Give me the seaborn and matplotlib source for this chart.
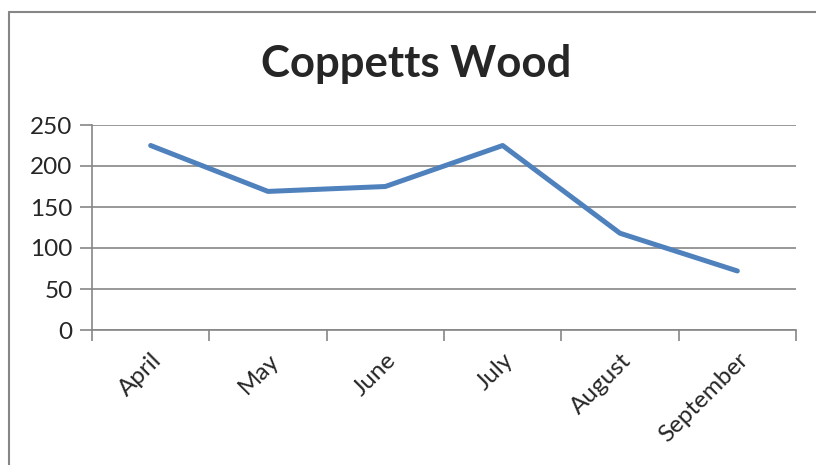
import pandas as pd
import matplotlib
matplotlib.use("Agg")
import matplotlib.pyplot as plt
import seaborn as sns
from matplotlib.lines import Line2D

months = ["April", "May", "June", "July", "August", "September"]
counts = [225, 169, 175, 225, 118, 72]
y_ticks = [0, 50, 100, 150, 200, 250]

df = pd.DataFrame({"month": months, "count": counts})

sns.set_style("white")
plt.rcParams["font.family"] = ["Lato", "DejaVu Sans"]

fig = plt.figure(figsize=(8.16, 4.65), dpi=100)
ax = fig.add_axes([92 / 816, 1 - 330 / 465, (796 - 92) / 816, (330 - 125) / 465])

sns.lineplot(data=df, x="month", y="count", sort=False, color="#4F81BD",
             linewidth=3.6, ax=ax)

ax.set_xlim(-0.5, len(months) - 0.5)
ax.set_ylim(0, 250)
ax.set_yticks(y_ticks)
ax.grid(axis="y", color="#868686", linewidth=1.2)
ax.set_axisbelow(True)

# category boundaries carry the tick marks, like Excel
ax.set_xticks([i - 0.5 for i in range(len(months) + 1)], minor=True)
ax.tick_params(axis="x", which="minor", bottom=True, length=8, width=1.2, color="#868686")
ax.tick_params(axis="x", which="major", bottom=True, length=0, pad=14)
ax.tick_params(axis="y", left=True, length=9, width=1.2, color="#868686", pad=5)
ax.set_xticks(range(len(months)))
ax.set_xticklabels(months, rotation=45, ha="right", rotation_mode="anchor",
                   fontsize=17.5)
for lab in ax.get_yticklabels():
    lab.set_fontsize(17.5)

for side in ["top", "right"]:
    ax.spines[side].set_visible(False)
for side in ["left", "bottom"]:
    ax.spines[side].set_color("#868686")
    ax.spines[side].set_linewidth(1.2)

ax.set_xlabel("")
ax.set_ylabel("")

fig.text(416 / 816, 1 - 64 / 465, "Coppetts Wood", ha="center", va="center",
         fontsize=31.5, fontweight="bold")

# chart frame, runs off the right and bottom edges
y_top = 1 - 12.5 / 465
x_left = 8.5 / 816
fig.lines.append(Line2D([x_left, 1.01], [y_top, y_top], transform=fig.transFigure,
                        color="#868686", linewidth=1.5))
fig.lines.append(Line2D([x_left, x_left], [-0.01, y_top], transform=fig.transFigure,
                        color="#868686", linewidth=1.5))

fig.savefig("out.png", dpi=100)
